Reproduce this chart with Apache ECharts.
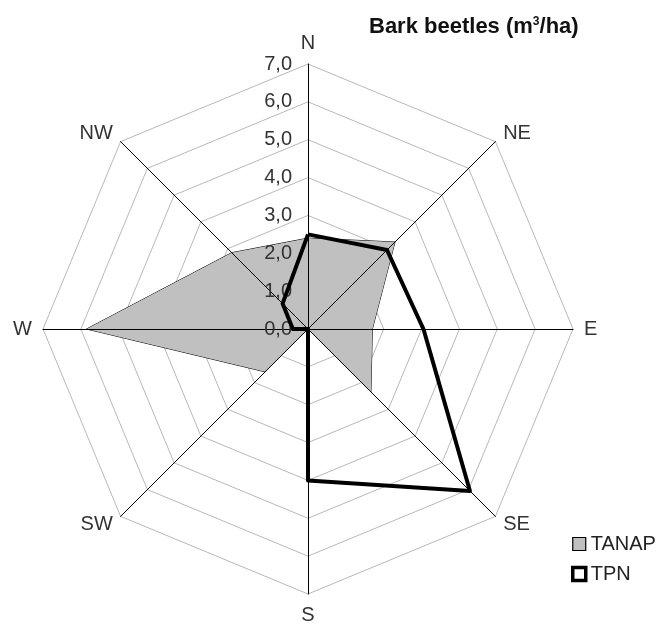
<!DOCTYPE html>
<html>
<head>
<meta charset="utf-8">
<script src="https://cdn.jsdelivr.net/npm/echarts@6/dist/echarts.min.js"></script>
<style>
  html, body { margin: 0; padding: 0; background: #fff; }
  #chart { width: 658px; height: 625px; }
</style>
</head>
<body>
<div id="chart"></div>
<script>
// compass order, clockwise from north
const directions = ['N', 'NE', 'E', 'SE', 'S', 'SW', 'W', 'NW']
const tanap = [2.4, 3.25, 1.7, 2.35, 0, 1.6, 5.85, 2.85]
const tpn = [2.5, 2.95, 3.05, 6.05, 4.0, 0, 0.4, 0.95]
const axisMax = 7

// radar runs counter-clockwise, so reorder N, NW, W, ... NE
const order = [0, 7, 6, 5, 4, 3, 2, 1]
const pick = arr => order.map(i => arr[i])

const center = [308, 329]
const radius = 265

const chart = echarts.init(document.getElementById('chart'))

// two radars on the same spot: grid rings under the fill, axes + labels over it
const indicators = withLabels => pick(directions).map((d, i) => ({
  name: d,
  min: 0,
  max: axisMax,
  axisLabel: {
    show: withLabels && i === 0,
    color: '#333',
    fontSize: 20,
    margin: 16,
    showMinLabel: true,
    hideOverlap: false,
    formatter: v => v.toFixed(1).replace('.', ',')
  }
}))

chart.setOption({
  animation: false,
  textStyle: { fontFamily: 'Liberation Sans, Arial, sans-serif' },
  title: {
    text: 'Bark beetles (m{sup|3}/ha)',
    left: 364,
    top: 11,
    textStyle: {
      fontSize: 22,
      fontWeight: 'bold',
      color: '#111',
      rich: {
        sup: { fontSize: 12, fontWeight: 'bold', color: '#111', padding: [0, 0, 10, 0], verticalAlign: 'bottom' }
      }
    }
  },
  legend: {
    orient: 'vertical',
    left: 566,
    top: 529,
    itemWidth: 13,
    itemHeight: 13,
    itemGap: 10,
    icon: 'rect',
    textStyle: { fontSize: 20, color: '#222' },
    data: [
      { name: 'TANAP', itemStyle: { color: '#c0c0c0', borderColor: '#000', borderWidth: 1.2 } },
      { name: 'TPN', itemStyle: { color: '#fff', borderColor: '#000', borderWidth: 3.5 } }
    ]
  },
  radar: [
    {
      z: 0,
      center: center,
      radius: radius,
      startAngle: 90,
      shape: 'polygon',
      splitNumber: 7,
      axisName: { show: false },
      axisLine: { show: false },
      splitLine: { lineStyle: { color: '#b8b8b8', width: 1 } },
      splitArea: { show: false },
      axisTick: { show: false },
      axisLabel: { show: false },
      indicator: indicators(false)
    },
    {
      z: 3,
      center: center,
      radius: radius,
      startAngle: 90,
      shape: 'polygon',
      splitNumber: 7,
      nameGap: 11,
      axisName: { color: '#333', fontSize: 20 },
      axisLine: { lineStyle: { color: '#000', width: 1 } },
      splitLine: { show: false },
      splitArea: { show: false },
      axisTick: { show: false },
      axisLabel: { show: false },
      indicator: indicators(true)
    }
  ],
  series: [
    {
      name: 'TANAP',
      type: 'radar',
      radarIndex: 0,
      z: 2,
      symbol: 'none',
      lineStyle: { color: '#000', width: 1 },
      itemStyle: { color: '#c0c0c0' },
      areaStyle: { color: '#c0c0c0', opacity: 1 },
      data: [{ name: 'TANAP', value: pick(tanap) }]
    },
    {
      name: 'TPN',
      type: 'radar',
      radarIndex: 0,
      z: 5,
      symbol: 'none',
      lineStyle: { color: '#000', width: 4 },
      itemStyle: { color: '#000' },
      data: [{ name: 'TPN', value: pick(tpn) }]
    }
  ]
})
</script>
</body>
</html>
